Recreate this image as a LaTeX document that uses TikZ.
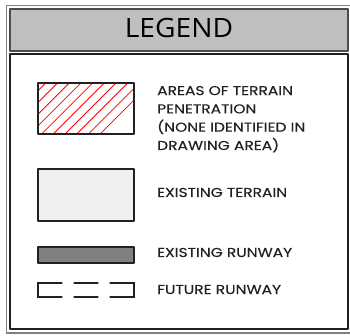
\documentclass[tikz,border=0pt]{standalone}
\usepackage{fontspec}
\setmainfont{Poppins}[FakeStretch=1.2,FakeBold=0.25]
\newfontfamily\headfont{Open Sans}[FakeStretch=1.06]
\usepackage{tkz-euclide}
\definecolor{FrameClr}{rgb}{0.5,0.5,0.5}
\definecolor{EdgeClr}{rgb}{0.13,0.13,0.13}
\definecolor{HeadClr}{rgb}{0.75,0.75,0.75}
\definecolor{TerrainClr}{rgb}{0.94,0.94,0.94}
\definecolor{RunwayClr}{rgb}{0.5,0.5,0.5}
\definecolor{HatchClr}{rgb}{1,0,0}
\tikzset{
  legtext/.style={anchor=base west,align=left,text=EdgeClr,inner sep=0pt,
    font=\fontsize{12.9}{18.3}\selectfont}
}

\begin{document}
\begin{tikzpicture}[x=1pt,y=-1pt]
\tkzSetUpLine[line width=1.2pt,color=EdgeClr]
\useasboundingbox (0,0) rectangle (350,336);

% outer frame, cut by the right edge
\draw[FrameClr,line width=1.6pt] (6.5,5.5) rectangle (354,333);

\tkzDefPoints{10/9/HA,348/9/HB,348/51/HC,10/51/HD}
\tkzDefPoints{10/54/BA,348/54/BB,348/329/BC,10/329/BD}
\tkzFillPolygon[fill=HeadClr](HA,HB,HC,HD)
\tkzDrawPolygon[line width=1.5pt,color=black!70](HA,HB,HC,HD)
\tkzDrawPolygon[line width=1.5pt](BA,BB,BC,BD)
\node[anchor=base,inner sep=0pt,font=\headfont\fontsize{26.6}{30}\selectfont,text=black] (legend) at (179,38) {LEGEND};

% terrain penetration (last line sits on the base)
\tkzDefPoints{38/83/PA,134/83/PB,134/134/PC,38/134/PD}
\begin{scope}
\clip (PA) rectangle (PC);
\foreach \s in {0,1,...,13}
  \draw[HatchClr,line width=0.8pt] (-1+11.7*\s-51,134) -- ++(51+51,-102);
\end{scope}
\tkzDrawPolygon(PA,PB,PC,PD)
\node[legtext] (pen) at (157,150) {AREAS OF TERRAIN\\PENETRATION\\(NONE IDENTIFIED IN\\DRAWING AREA)};

% existing terrain
\tkzDefPoints{38/169/TA,134/169/TB,134/221/TC,38/221/TD}
\tkzFillPolygon[fill=TerrainClr](TA,TB,TC,TD)
\tkzDrawPolygon(TA,TB,TC,TD)
\node[legtext] (terrain) at (157,197) {EXISTING TERRAIN};

% existing runway
\tkzDefPoints{38/247/RA,134/247/RB,134/263/RC,38/263/RD}
\tkzFillPolygon[fill=RunwayClr](RA,RB,RC,RD)
\tkzDrawPolygon(RA,RB,RC,RD)
\node[legtext] (runway) at (157,257) {EXISTING RUNWAY};

% future runway
\tkzDefPoints{38/283/FA,62/283/FB,74/283/FC,98/283/FD,110/283/FE,134/283/FF}
\tkzDefPoints{38/297/GA,62/297/GB,74/297/GC,98/297/GD,110/297/GE,134/297/GF}
\tkzDrawPolySeg(FB,FA,GA,GB)
\tkzDrawSegments(FC,FD GC,GD)
\tkzDrawPolySeg(FE,FF,GF,GE)
\node[legtext] (future) at (157,294) {FUTURE RUNWAY};

\end{tikzpicture}
\end{document}
